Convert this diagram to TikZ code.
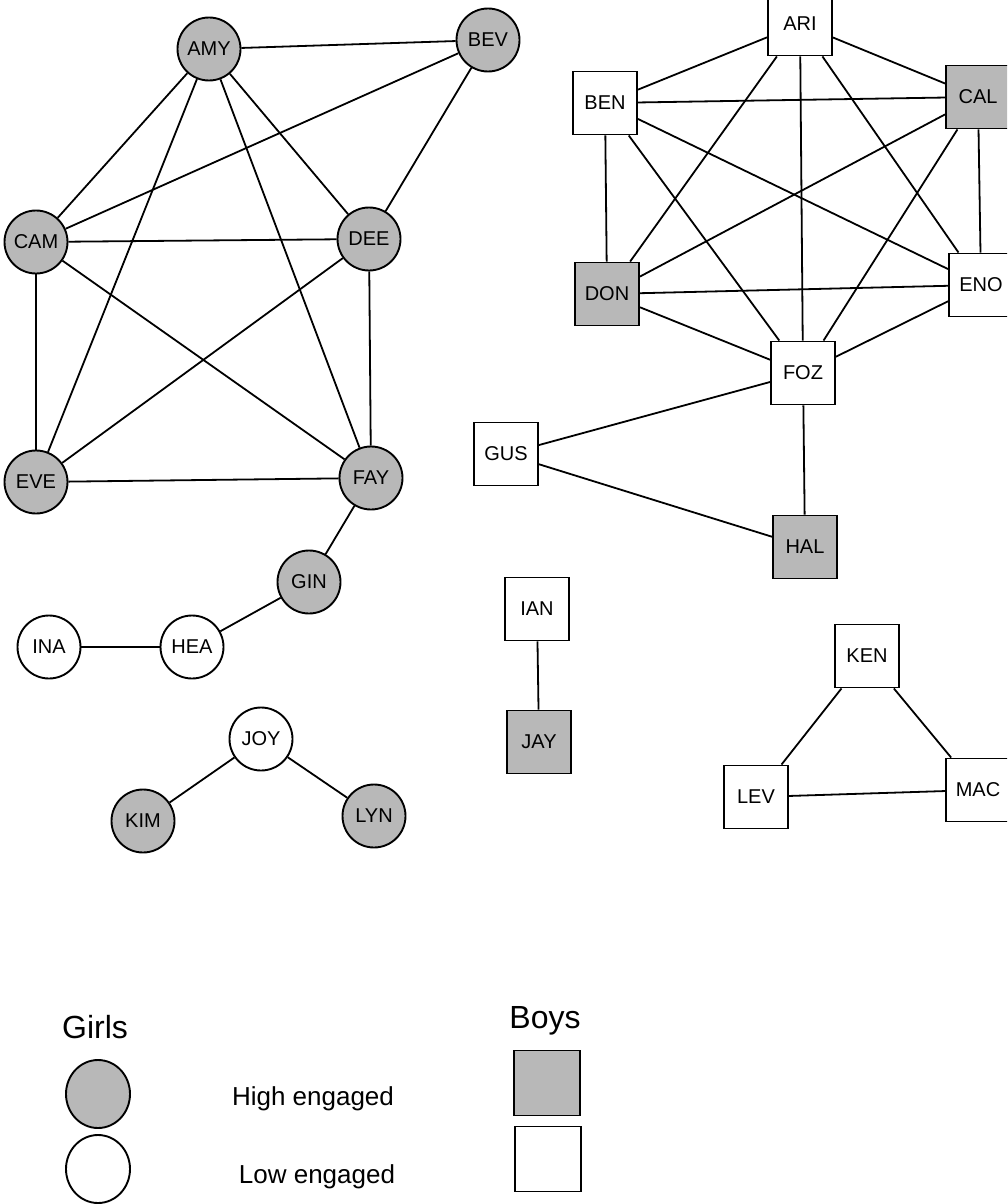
\documentclass[tikz,border=0pt]{standalone}
\usepackage{fontspec}
\setmainfont{Liberation Sans}
\usetikzlibrary{shapes.geometric}
\begin{document}
\begin{tikzpicture}[x=1pt,y=-1pt,
  lab/.style={font=\fontsize{20}{20}\selectfont},
  girl/.style={circle, draw, line width=1.9pt, minimum size=63pt, inner sep=0pt, lab},
  boy/.style={rectangle, draw, line width=1.9pt, minimum width=64pt, minimum height=63pt, inner sep=0pt, lab},
  hi/.style={fill=black!28},
  lo/.style={fill=white},
  link/.style={line width=1.8pt},
  legtitle/.style={font=\fontsize{32}{32}\selectfont, anchor=base},
  legtext/.style={font=\fontsize{26}{26}\selectfont, anchor=base}]
\useasboundingbox (0,0) rectangle (1007,1204);
\clip (0,0) rectangle (1007,1204);
% girls
\node[girl,hi] (AMY) at (209,49) {AMY};
\node[girl,hi] (BEV) at (488,40) {BEV};
\node[girl,hi] (CAM) at (36,242) {CAM};
\node[girl,hi] (DEE) at (369,239) {DEE};
\node[girl,hi] (EVE) at (36,482) {EVE};
\node[girl,hi] (FAY) at (371,478) {FAY};
\node[girl,hi] (GIN) at (309,582) {GIN};
\node[girl,lo] (HEA) at (192,647) {HEA};
\node[girl,lo] (INA) at (49,647) {INA};
\node[girl,lo] (JOY) at (261,739) {JOY};
\node[girl,hi] (KIM) at (143,821) {KIM};
\node[girl,hi] (LYN) at (374,816) {LYN};
% boys
\node[boy,lo] (ARI) at (800,24) {ARI};
\node[boy,lo] (BEN) at (605,103) {BEN};
\node[boy,hi] (CAL) at (978,97) {CAL};
\node[boy,hi] (DON) at (607,294) {DON};
\node[boy,lo] (ENO) at (981,285) {ENO};
\node[boy,lo] (FOZ) at (803,373) {FOZ};
\node[boy,lo] (GUS) at (506,454) {GUS};
\node[boy,hi] (HAL) at (805,547) {HAL};
\node[boy,lo] (IAN) at (537,609) {IAN};
\node[boy,hi] (JAY) at (539,742) {JAY};
\node[boy,lo] (KEN) at (867,656) {KEN};
\node[boy,lo] (LEV) at (756,797) {LEV};
\node[boy,lo] (MAC) at (978,790) {MAC};
% edges
\begin{scope}[on background layer/.style={}]
\foreach \a/\b in {AMY/BEV,AMY/CAM,AMY/DEE,AMY/EVE,AMY/FAY,BEV/CAM,BEV/DEE,CAM/DEE,CAM/EVE,CAM/FAY,DEE/EVE,DEE/FAY,EVE/FAY,FAY/GIN,GIN/HEA,HEA/INA,JOY/KIM,JOY/LYN,
  ARI/BEN,ARI/CAL,ARI/DON,ARI/ENO,ARI/FOZ,BEN/CAL,BEN/DON,BEN/ENO,BEN/FOZ,CAL/DON,CAL/ENO,CAL/FOZ,DON/ENO,DON/FOZ,ENO/FOZ,FOZ/GUS,FOZ/HAL,GUS/HAL,IAN/JAY,KEN/LEV,KEN/MAC,LEV/MAC}
  \draw[link] (\a) -- (\b);
\end{scope}
% legend
\node[legtitle] (girls) at (95,1038) {Girls};
\node[legtitle] (boys) at (545,1028) {Boys};
\node[ellipse, draw, line width=1.9pt, minimum width=64pt, minimum height=68pt, inner sep=0pt, hi] (lghi) at (98,1094) {};
\node[ellipse, draw, line width=1.9pt, minimum width=64pt, minimum height=68pt, inner sep=0pt, lo] (lglo) at (98,1169) {};
\node[legtext] (thi) at (313,1105) {High engaged};
\node[legtext] (tlo) at (317,1183) {Low engaged};
\node[rectangle, draw, line width=1.9pt, minimum width=66pt, minimum height=65pt, inner sep=0pt, hi] (lbhi) at (547,1083) {};
\node[rectangle, draw, line width=1.9pt, minimum width=66pt, minimum height=65pt, inner sep=0pt, lo] (lblo) at (548,1159) {};
\end{tikzpicture}
\end{document}
